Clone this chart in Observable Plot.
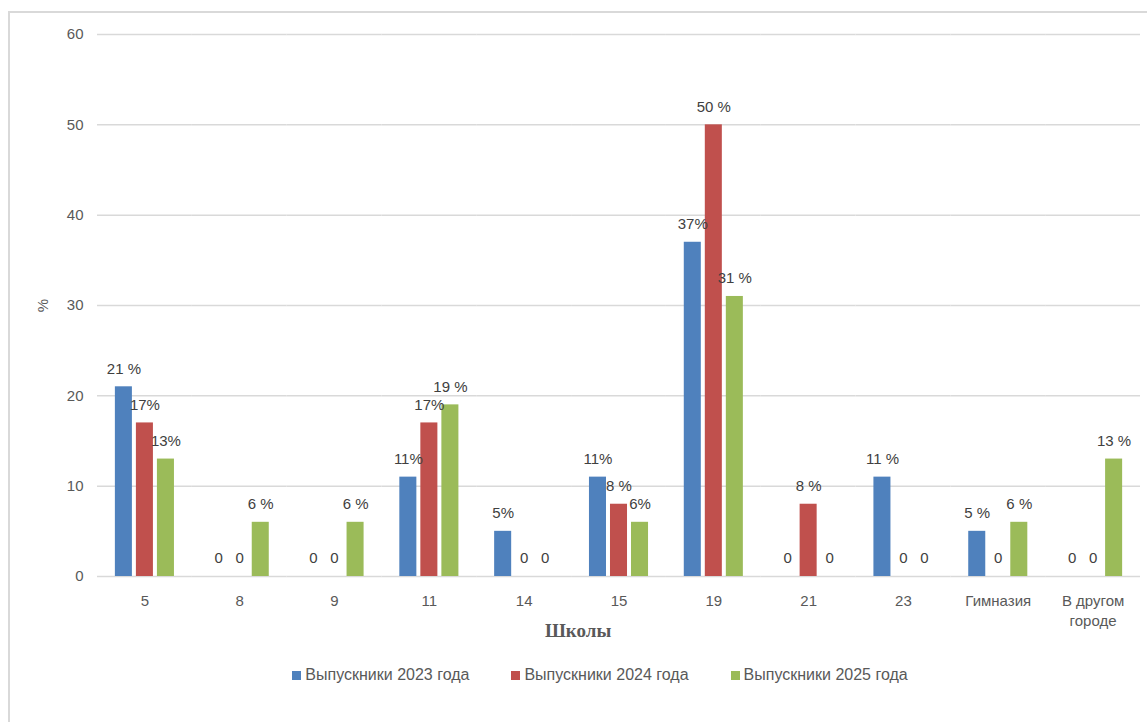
<!DOCTYPE html>
<html>
<head>
<meta charset="utf-8">
<script src="https://cdn.jsdelivr.net/npm/d3@7"></script>
<script src="https://cdn.jsdelivr.net/npm/@observablehq/plot@0.6"></script>
<style>
  html, body { margin: 0; padding: 0; background: #fff; overflow: hidden; width: 1147px; height: 722px; }
  #frame { position: absolute; left: 8px; top: 11px; width: 1300px; height: 900px; border-left: 2px solid #d9d9d9; border-top: 2px solid #d9d9d9; }
  #chart { position: absolute; left: 0; top: 0; }
  #xtitle { position: absolute; left: 545px; top: 620px; font-family: "Liberation Serif", "Times New Roman", serif; font-weight: bold; font-size: 19px; color: #595959; }
  #legend { position: absolute; top: 666px; left: 0; width: 1147px; display: flex; justify-content: center; padding-left: 53px; box-sizing: border-box; font-family: "Liberation Sans", sans-serif; font-size: 16px; color: #595959; gap: 42px; }
  .item { display: flex; align-items: center; }
  .sw { width: 9px; height: 9px; margin-right: 4px; display: inline-block; }
</style>
</head>
<body>
<div id="frame"></div>
<div id="chart"></div>
<div id="xtitle">Школы</div>
<div id="legend"></div>
<script>
const schools = ["5", "8", "9", "11", "14", "15", "19", "21", "23", "Гимназия", "В другом городе"];
const schoolTickLabels = ["5", "8", "9", "11", "14", "15", "19", "21", "23", "Гимназия", "В другом\nгороде"];
const seriesNames = ["Выпускники 2023 года", "Выпускники 2024 года", "Выпускники 2025 года"];
const seriesColors = ["#4F81BD", "#C0504D", "#9BBB59"];
const values2023 = [21, 0, 0, 11, 5, 11, 37, 0, 11, 5, 0];
const values2024 = [17, 0, 0, 17, 0, 8, 50, 8, 0, 0, 0];
const values2025 = [13, 6, 6, 19, 0, 6, 31, 0, 0, 6, 13];
const labels2023 = ["21 %", "0", "0", "11%", "5%", "11%", "37%", "0", "11 %", "5 %", "0"];
const labels2024 = ["17%", "0", "0", "17%", "0", "8 %", "50 %", "8 %", "0", "0", "0"];
const labels2025 = ["13%", "6 %", "6 %", "19 %", "0", "6%", "31 %", "0", "0", "6 %", "13 %"];
const yTicks = [0, 10, 20, 30, 40, 50, 60];

const allValues = [values2023, values2024, values2025];
const allLabels = [labels2023, labels2024, labels2025];
const data = [];
schools.forEach((s, i) => {
  seriesNames.forEach((name, k) => {
    data.push({school: s, series: name, value: allValues[k][i], label: allLabels[k][i]});
  });
});

const font = "'Liberation Sans', sans-serif";

const chart = Plot.plot({
  width: 1147,
  height: 650,
  marginLeft: 97,
  marginRight: 7,
  marginTop: 34,
  marginBottom: 74,
  style: {fontFamily: font, fontSize: "16px", color: "#595959", background: "transparent"},
  fx: {domain: schools, padding: 0, round: false},
  x: {domain: seriesNames, paddingInner: 0.19, paddingOuter: 0.85, round: false, axis: null},
  y: {domain: [0, 60]},
  color: {domain: seriesNames, range: seriesColors},
  marks: [
    Plot.ruleY(yTicks, {stroke: "#d9d9d9", strokeWidth: 1.5}),
    Plot.barY(data, {fx: "school", x: "series", y: "value", fill: "series"}),
    Plot.text(data, {fx: "school", x: "series", y: "value", text: "label", dy: -18, fill: "#404040", fontSize: 15}),
    Plot.axisY({ticks: yTicks, tickSize: 0, tickPadding: 14, label: "%", labelAnchor: "center", labelArrow: "none", labelOffset: 60, fontSize: 15}),
    Plot.axisFx({anchor: "bottom", tickSize: 0, tickPadding: 16, label: null, fontSize: 15, lineHeight: 1.3,
      tickFormat: d => schoolTickLabels[schools.indexOf(d)]})
  ]
});
document.getElementById("chart").appendChild(chart);

const legend = document.getElementById("legend");
seriesNames.forEach((n, k) => {
  const it = document.createElement("div");
  it.className = "item";
  it.innerHTML = `<span class="sw" style="background:${seriesColors[k]}"></span>${n}`;
  legend.appendChild(it);
});
</script>
</body>
</html>
